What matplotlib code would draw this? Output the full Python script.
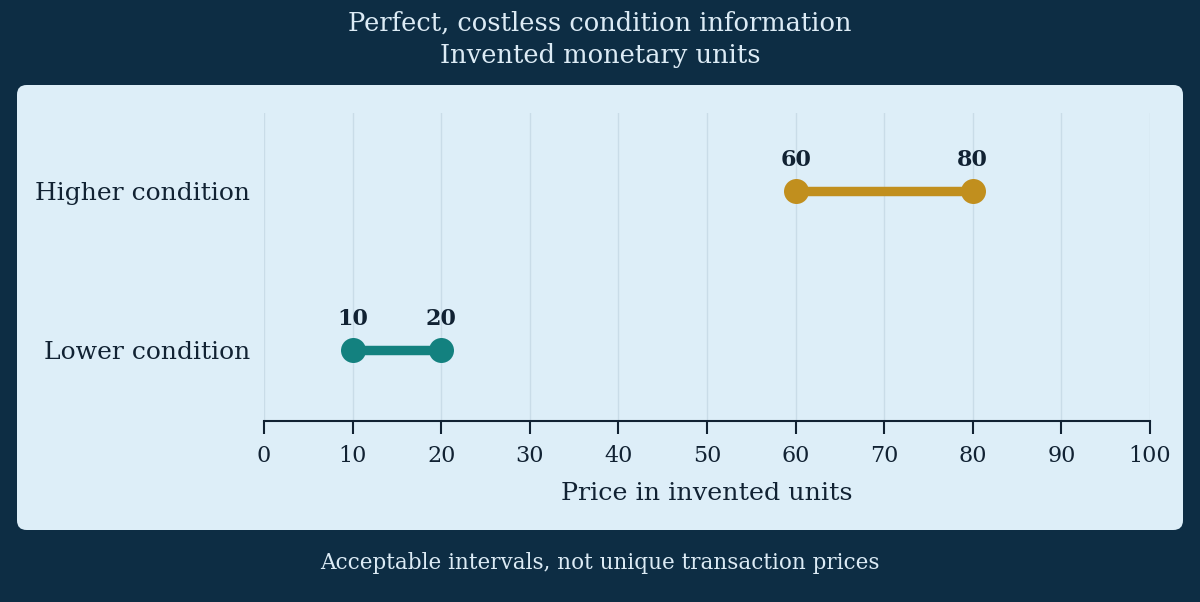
import matplotlib
matplotlib.use("Agg")
import matplotlib.pyplot as plt
from matplotlib.patches import FancyBboxPatch

categories = ["Lower condition", "Higher condition"]
low_values = [10, 60]
high_values = [20, 80]
series_colors = ["#13817f", "#c18f1e"]
x_ticks = [0, 10, 20, 30, 40, 50, 60, 70, 80, 90, 100]
title_lines = ["Perfect, costless condition information", "Invented monetary units"]
x_label = "Price in invented units"
footer = "Acceptable intervals, not unique transaction prices"

plt.rcParams['font.family'] = ['DejaVu Serif']
W, H = 1200, 602
BG = "#0d2d44"
PANEL = "#ddeef8"
TXT = "#112233"

fig = plt.figure(figsize=(W / 100, H / 100), dpi=100, facecolor=BG)

panel = FancyBboxPatch((17 / W, 1 - 530 / H), (1183 - 17) / W, (530 - 85) / H,
                       boxstyle="round,pad=0,rounding_size=0.008",
                       transform=fig.transFigure, facecolor=PANEL, edgecolor="none",
                       mutation_aspect=W / H, zorder=0)
fig.patches.append(panel)

ax = fig.add_axes([264 / W, 1 - 421 / H, (1150 - 264) / W, (421 - 113) / H])
ax.set_zorder(2)
ax.set_facecolor("none")
ax.set_xlim(0, 100)
ax.set_ylim(-0.445, 1.49)

ys = list(range(len(categories)))
for y, lo, hi, c in zip(ys, low_values, high_values, series_colors):
    ax.plot([lo, hi], [y, y], color=c, lw=6.8, solid_capstyle="butt", zorder=3, clip_on=False)
    ax.plot([lo, hi], [y, y], "o", color=c, ms=18, mec="none", zorder=4, clip_on=False)
    for v in (lo, hi):
        ax.annotate(f"{v}", (v, y), xytext=(0, 22.5), textcoords="offset points",
                    ha="center", va="center", fontsize=16, fontweight="bold", color=TXT)

ax.set_xticks(x_ticks)
ax.set_xticklabels([str(t) for t in x_ticks], fontsize=16, color=TXT)
ax.tick_params(axis="x", length=9, width=1.5, color=TXT, pad=8)
ax.set_yticks(ys)
ax.set_yticklabels(categories, fontsize=18, color=TXT)
ax.tick_params(axis="y", length=0, pad=10)
ax.grid(axis="x", color="#c9dce8", lw=1)
ax.set_axisbelow(True)
for s in ["top", "right", "left"]:
    ax.spines[s].set_visible(False)
ax.spines["bottom"].set_color(TXT)
ax.spines["bottom"].set_linewidth(1.5)
ax.set_xlabel(x_label, fontsize=18.3, color=TXT, labelpad=11)

fig.text(0.5, 1 - 23 / H, title_lines[0], ha="center", va="center", fontsize=18.5, color="#dcebf5")
fig.text(0.5, 1 - 56 / H, title_lines[1], ha="center", va="center", fontsize=18.5, color="#dcebf5")
fig.text(0.5, 1 - 563 / H, footer, ha="center", va="center", fontsize=15.5, color="#dcebf5")

fig.savefig("out.png", dpi=100, facecolor=BG)
